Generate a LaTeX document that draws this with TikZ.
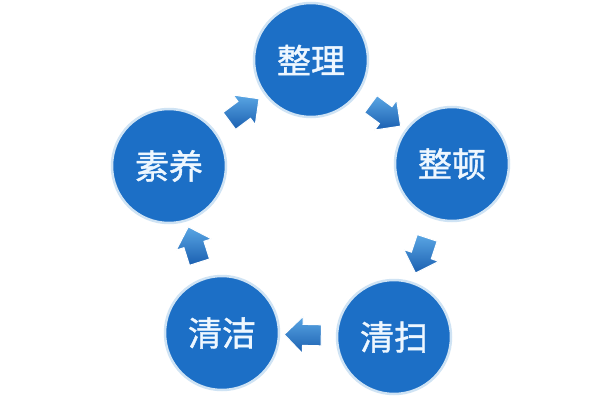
\documentclass[tikz,border=0pt]{standalone}
\usepackage{fontspec}
\newfontfamily\cjk[FakeBold=1.2]{Noto Sans CJK SC}
\usetikzlibrary{shapes.arrows,calc}
\definecolor{circblue}{HTML}{1C6FC6}
\definecolor{ringblue}{HTML}{CFE3F4}
\definecolor{arrlight}{HTML}{5AA6E4}
\definecolor{arrdark}{HTML}{1A5FB0}
\definecolor{txtwhite}{HTML}{EEF7FF}
\begin{document}
\begin{tikzpicture}[x=1pt,y=1pt,
  stepcirc/.style={circle, minimum size=114pt, inner sep=0pt, fill=circblue,
    draw=ringblue, line width=2.5pt, text=txtwhite,
    font=\cjk\fontsize{34}{34}\selectfont},
  blockarrow/.style={single arrow, sloped, allow upside down, minimum height=37pt,
    inner sep=10pt, single arrow head extend=8pt, single arrow tip angle=90,
    top color=arrlight, bottom color=arrdark, draw=white, line width=1pt}]
\useasboundingbox (0,0) rectangle (600,400);
\fill[white] (0,0) rectangle (600,400);
\node[stepcirc] (zl) at (311,340) {整理};
\node[stepcirc] (zd) at (452,236) {整顿};
\node[stepcirc] (qs) at (394,63) {清扫};
\node[stepcirc] (qj) at (222,67) {清洁};
\node[stepcirc] (sy) at (169,234) {素养};
\path (sy) -- node[blockarrow] (a1) {} (zl);
\path (zl) -- node[blockarrow] (a2) {} (zd);
\path (zd) -- node[blockarrow] (a3) {} (qs);
\path (qs) -- node[blockarrow] (a4) {} (qj);
\path (qj) -- node[blockarrow] (a5) {} (sy);
\end{tikzpicture}
\end{document}
